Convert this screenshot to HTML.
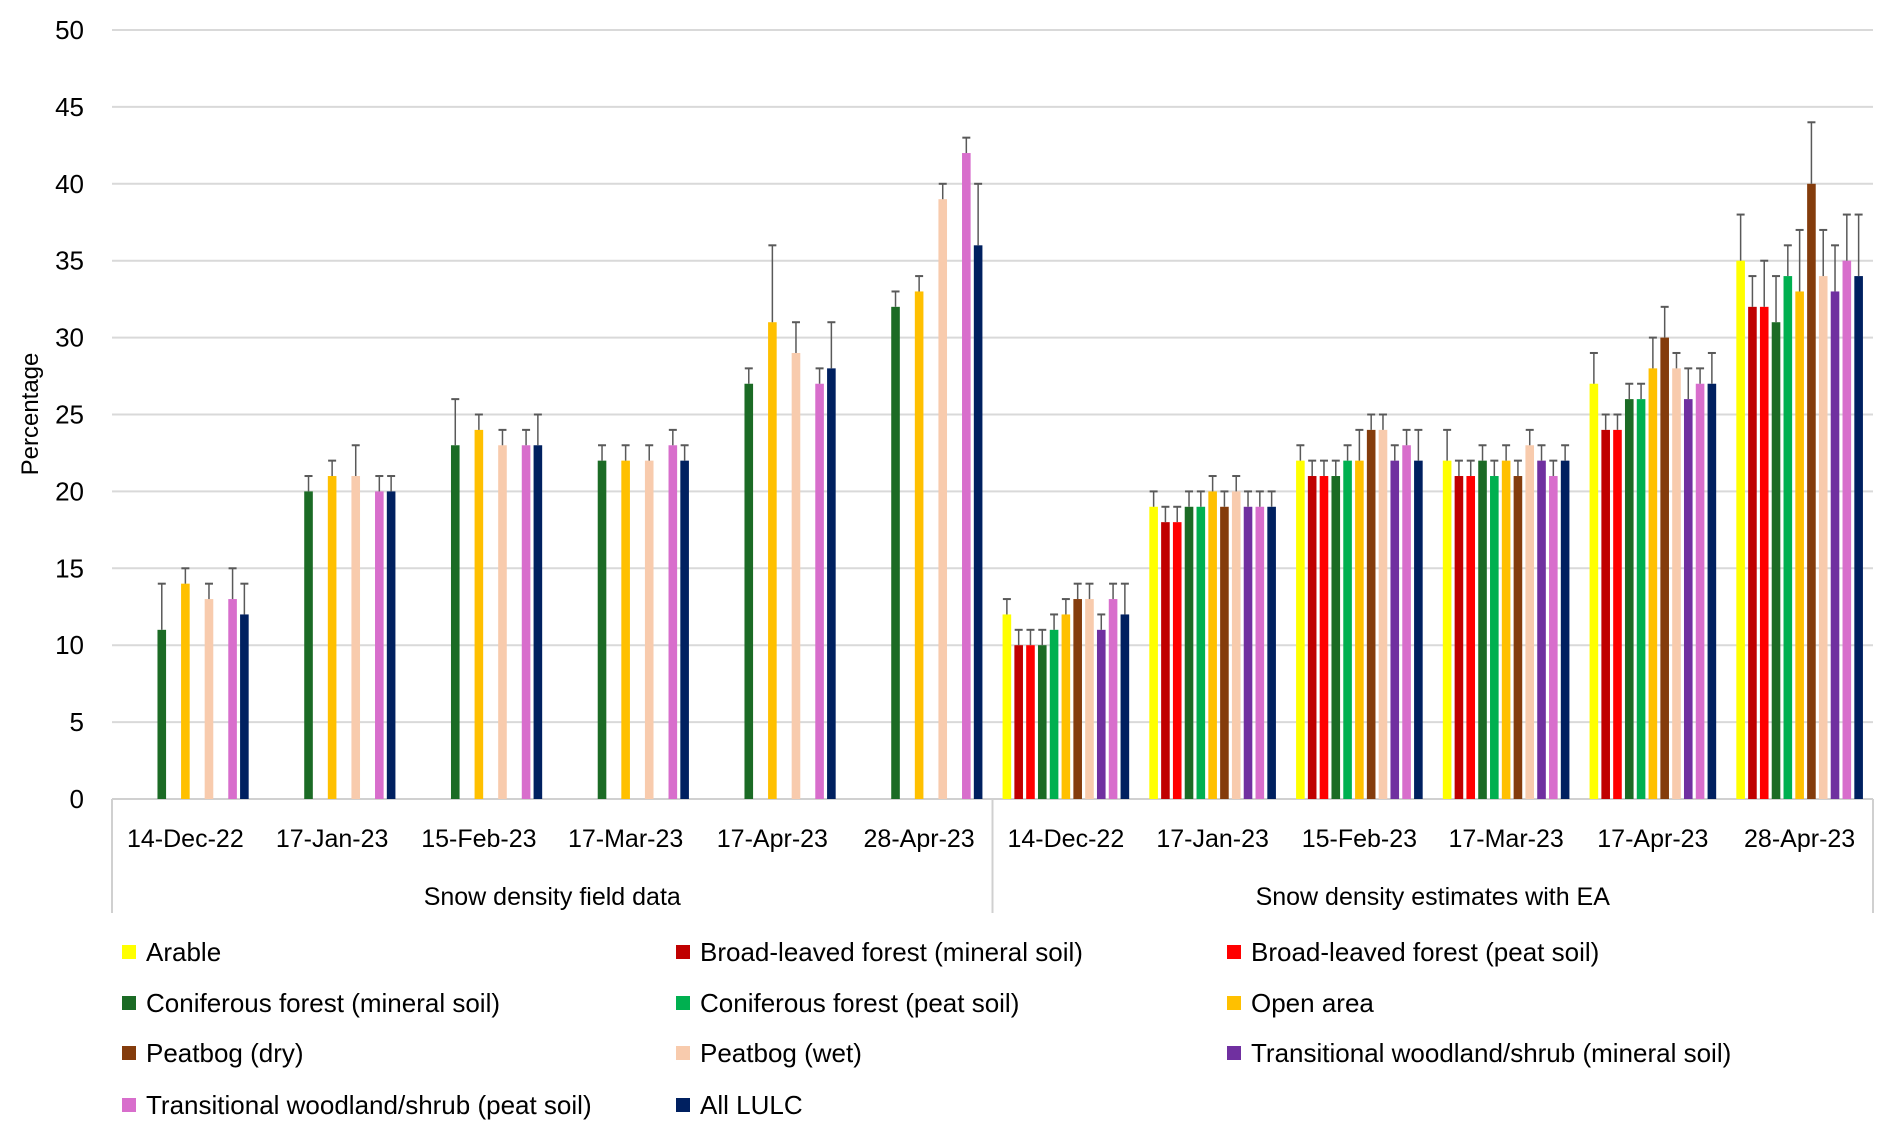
<!DOCTYPE html>
<html><head><meta charset="utf-8"><style>
html,body{margin:0;padding:0;background:#fff;}
svg{display:block;font-family:"Liberation Sans",sans-serif;}
</style></head><body>
<svg id="chart" width="1892" height="1139" viewBox="0 0 1892 1139" xmlns="http://www.w3.org/2000/svg"></svg>
<script>
const categories = ["14-Dec-22","17-Jan-23","15-Feb-23","17-Mar-23","17-Apr-23","28-Apr-23","14-Dec-22","17-Jan-23","15-Feb-23","17-Mar-23","17-Apr-23","28-Apr-23"];
const groups = ["Snow density field data","Snow density estimates with EA"];
const seriesNames = ["Arable","Broad-leaved forest (mineral soil)","Broad-leaved forest (peat soil)","Coniferous forest (mineral soil)","Coniferous forest (peat soil)","Open area","Peatbog (dry)","Peatbog (wet)","Transitional woodland/shrub (mineral soil)","Transitional woodland/shrub (peat soil)","All LULC"];
const seriesColors = ["#FFFF00","#C00000","#FF0000","#1B6B25","#00B050","#FFC000","#843C0C","#F8CBAD","#7030A0","#D86ECC","#002060"];
const yTicks = [0,5,10,15,20,25,30,35,40,45,50];
// values[category][series]; null = no bar
const values = [
 [null,null,null,11,null,14,null,13,null,13,12],
 [null,null,null,20,null,21,null,21,null,20,20],
 [null,null,null,23,null,24,null,23,null,23,23],
 [null,null,null,22,null,22,null,22,null,23,22],
 [null,null,null,27,null,31,null,29,null,27,28],
 [null,null,null,32,null,33,null,39,null,42,36],
 [12,10,10,10,11,12,13,13,11,13,12],
 [19,18,18,19,19,20,19,20,19,19,19],
 [22,21,21,21,22,22,24,24,22,23,22],
 [22,21,21,22,21,22,21,23,22,21,22],
 [27,24,24,26,26,28,30,28,26,27,27],
 [35,32,32,31,34,33,40,34,33,35,34]
];
const errTop = [
 [null,null,null,14,null,15,null,14,null,15,14],
 [null,null,null,21,null,22,null,23,null,21,21],
 [null,null,null,26,null,25,null,24,null,24,25],
 [null,null,null,23,null,23,null,23,null,24,23],
 [null,null,null,28,null,36,null,31,null,28,31],
 [null,null,null,33,null,34,null,40,null,43,40],
 [13,11,11,11,12,13,14,14,12,14,14],
 [20,19,19,20,20,21,20,21,20,20,20],
 [23,22,22,22,23,24,25,25,23,24,24],
 [24,22,22,23,22,23,22,24,23,22,23],
 [29,25,25,27,27,30,32,29,28,28,29],
 [38,34,35,34,36,37,44,37,36,38,38]
];

const svg = document.getElementById('chart');
const NS = "http://www.w3.org/2000/svg";
function mk(tag, attrs, parent){ const e=document.createElementNS(NS,tag); for(const k in attrs) e.setAttribute(k,attrs[k]); (parent||svg).appendChild(e); return e; }
const L=112, R=1873, Y0=799, Y50=30;
const yS = v => Y0 - (v/50)*(Y0-Y50);
const catW = (R-L)/categories.length;
const slot = 11.8, barW = 8.6;
const xS = (c,s) => L + c*catW + (catW - slot*11)/2 + slot*(s+0.5);

yTicks.forEach(t=>{
  const g = mk('line',{x1:L,x2:R,y1:yS(t),y2:yS(t),stroke:t===0?'#d0d0d0':'#d9d9d9','stroke-width':2});
  
  
  const tx = mk('text',{x:84,y:yS(t)+9,'text-anchor':'end','font-size':26,fill:'#000'});
  tx.textContent = t;
  
  
});
const yt = mk('text',{x:0,y:0,transform:'translate(38,414) rotate(-90)','text-anchor':'middle','font-size':24,fill:'#000'});
yt.textContent='Percentage';



[L, L+catW*6, R].forEach((x,i)=>{
  const ln = mk('line',{x1:x,x2:x,y1:Y0,y2:913,stroke:'#d0d0d0','stroke-width':2});
  
  
});
categories.forEach((c,i)=>{
  const t = mk('text',{x:L+catW*(i+0.5),y:847,'text-anchor':'middle','font-size':25,fill:'#000'});
  t.textContent=c;
  
  
});
groups.forEach((g,i)=>{
  const t = mk('text',{x:L+catW*6*(i+0.5),y:905,'text-anchor':'middle','font-size':25,fill:'#000'});
  t.textContent=g;
  
  
});

values.forEach((row,c)=>{
  row.forEach((v,s)=>{
    if(v===null) return;
    const x = xS(c,s);
    const b = mk('rect',{x:x-barW/2,y:yS(v),width:barW,height:Y0-yS(v),fill:seriesColors[s]});
    
    
    const e = errTop[c][s];
    if(e!==null){
      const el = mk('line',{x1:x,x2:x,y1:yS(v),y2:yS(e),stroke:'#595959','stroke-width':1.5});
      
      
      const cap = mk('line',{x1:x-4,x2:x+4,y1:yS(e),y2:yS(e),stroke:'#595959','stroke-width':2});
      
      
    }
  });
});

const colX=[122,676,1227], rowY=[952,1003,1053,1105];
seriesNames.forEach((n,i)=>{
  const cx=colX[i%3], cy=rowY[Math.floor(i/3)];
  const g = mk('g',{});
  
  
  mk('rect',{x:cx,y:cy-7,width:14,height:14,fill:seriesColors[i]},g);
  const t = mk('text',{x:cx+24,y:cy+9,'font-size':26,fill:'#000'},g);
  t.textContent=n;
});
</script>
</body></html>
